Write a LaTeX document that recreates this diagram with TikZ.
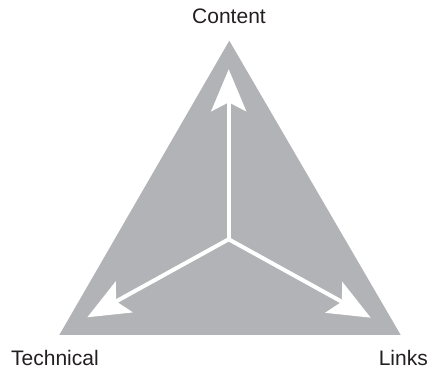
\documentclass[tikz,border=0pt]{standalone}
\usepackage{fontspec}
\setmainfont{Liberation Sans}
\usetikzlibrary{positioning, arrows.meta, calc}

\definecolor{trigrey}{RGB}{178,179,182}
\definecolor{labeltext}{RGB}{35,31,32}

\begin{document}
\begin{tikzpicture}[x=1pt, y=1pt,
  every node/.style={inner sep=0pt, text=labeltext, font=\fontsize{21}{24}\selectfont},
  pointer/.style={white, line width=4pt, -{Stealth[length=42pt, width=35pt, inset=9pt]}}]
  \useasboundingbox (0,0) rectangle (429,371);
  % triangle corners and hub
  \coordinate (top) at (229.3,330.3);
  \coordinate (left) at (59.3,36);
  \coordinate (right) at (400.7,36);
  \coordinate (hub) at (228.7,131.7);
  \fill[trigrey] (top) -- (left) -- (right) -- cycle;
  % arrow ends
  \coordinate (toContent) at (228.7,301.7);
  \coordinate (toTechnical) at (87.3,53.7);
  \coordinate (toLinks) at (370.7,53.3);
  \draw[pointer] (hub) -- (toContent);
  \draw[pointer] (hub) -- (toTechnical);
  \draw[pointer] (hub) -- (toLinks);
  % labels
  \node (content) [anchor=base] at (229,347) {Content};
  \node (technical) [anchor=base west] at (11,5) {Technical};
  \node (links) [anchor=base east] at (428,5) {Links};
\end{tikzpicture}
\end{document}
